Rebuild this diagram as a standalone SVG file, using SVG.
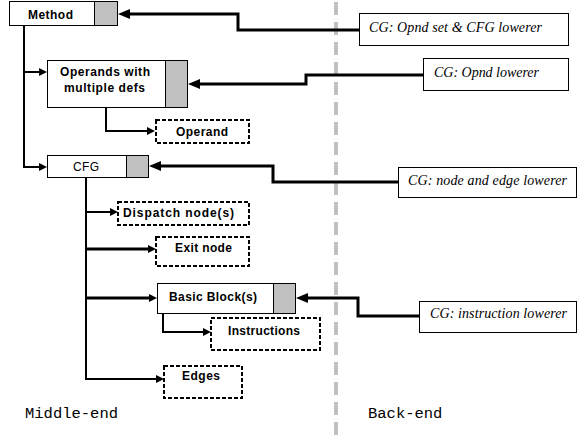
<svg xmlns="http://www.w3.org/2000/svg" width="586" height="436" viewBox="0 0 586 436">
<style>
.bg{fill:#ffffff}
.box{fill:#ffffff;stroke:#000;stroke-width:1}
.gray{fill:#c0c0c0;stroke:#000;stroke-width:1}
.dash{fill:#ffffff;stroke:#000;stroke-width:2;stroke-dasharray:4 2}
.cg{fill:#ffffff;stroke:#000;stroke-width:1}
.lbl{font-family:"Liberation Sans",Arial,sans-serif;font-size:12px;font-weight:bold;fill:#000}
.lbln{font-family:"Liberation Sans",Arial,sans-serif;font-size:12px;fill:#000}
.it{font-family:"Liberation Serif","Times New Roman",serif;font-size:14px;font-style:italic;fill:#000}
.mono{font-family:"Liberation Mono","Courier New",monospace;font-size:15.5px;fill:#000}
.sep{stroke:#c0c0c0;stroke-width:4;stroke-dasharray:13 7;stroke-dashoffset:18;fill:none}
.big{fill:none;stroke:#000;stroke-width:3}
.tree{fill:none;stroke:#000;stroke-width:2}
.thick{fill:none;stroke:#000;stroke-width:3}
</style>
<defs>
<marker id="ab" markerUnits="userSpaceOnUse" viewBox="0 0 12 10" refX="6" refY="5" markerWidth="12" markerHeight="10" orient="auto">
<path d="M0,0 L12,5 L0,10 z" fill="#000"/>
</marker>
<marker id="as" markerUnits="userSpaceOnUse" viewBox="0 0 8 8" refX="4" refY="4" markerWidth="8" markerHeight="8" orient="auto">
<path d="M0,0 L8,4 L0,8 z" fill="#000"/>
</marker>
</defs>
<rect class="bg" x="0" y="0" width="586" height="436"/>
<line class="sep" x1="336" y1="0" x2="336" y2="436"/>

<g id="connectors">
<path class="big" d="M359,30 H238 V14 H124" marker-end="url(#ab)"/>
<path class="big" d="M423,75 H306 V84 H194" marker-end="url(#ab)"/>
<path class="big" d="M398,182 H273 V166 H155" marker-end="url(#ab)"/>
<path class="big" d="M419,316 H358 V298 H302" marker-end="url(#ab)"/>
<path class="tree" d="M24,25 V167 H43" marker-end="url(#as)"/>
<path class="tree" d="M24,72 H43" marker-end="url(#as)"/>
<path class="tree" d="M106,107 V131 H151" marker-end="url(#as)"/>
<path class="tree" d="M86,177 V379 H160" marker-end="url(#as)"/>
<path class="tree" d="M86,212 H114" marker-end="url(#as)"/>
<path class="thick" d="M86,249 H152" marker-end="url(#as)"/>
<path class="thick" d="M86,298 H153" marker-end="url(#as)"/>
<path class="tree" d="M163,313 V332 H207" marker-end="url(#as)"/>
</g>

<g id="method">
<rect class="box" x="9.5" y="1.5" width="85" height="24"/>
<rect class="gray" x="94.5" y="1.5" width="23" height="24"/>
<text class="lbl" x="28" y="19" textLength="45">Method</text>
</g>
<g id="operands">
<rect class="box" x="47.5" y="60.5" width="118" height="47"/>
<rect class="gray" x="165.5" y="60.5" width="22" height="47"/>
<text class="lbl" x="60" y="76" textLength="90">Operands with</text>
<text class="lbl" x="64" y="92" textLength="81">multiple defs</text>
</g>
<g id="operand">
<rect class="dash" x="156" y="120" width="93" height="23"/>
<text class="lbl" x="176" y="136" textLength="52">Operand</text>
</g>
<g id="cfg">
<rect class="box" x="47.5" y="155.5" width="79" height="22"/>
<rect class="gray" x="126.5" y="155.5" width="22" height="22"/>
<text class="lbln" x="73" y="171" textLength="26">CFG</text>
</g>
<g id="dispatch">
<rect class="dash" x="118" y="202" width="131" height="23"/>
<text class="lbl" x="123" y="217" textLength="111">Dispatch node(s)</text>
</g>
<g id="exit">
<rect class="dash" x="156" y="237" width="93" height="29"/>
<text class="lbl" x="175" y="252" textLength="57">Exit node</text>
</g>
<g id="basicblock">
<rect class="box" x="157.5" y="283.5" width="116" height="30"/>
<rect class="gray" x="273.5" y="283.5" width="22" height="30"/>
<text class="lbl" x="169" y="301" textLength="88">Basic Block(s)</text>
</g>
<g id="instructions">
<rect class="dash" x="211" y="318" width="109" height="32"/>
<text class="lbl" x="228" y="335" textLength="72">Instructions</text>
</g>
<g id="edges">
<rect class="dash" x="164" y="366" width="78" height="32"/>
<text class="lbl" x="182" y="380" textLength="38">Edges</text>
</g>

<g id="cg-opndset">
<rect class="cg" x="359.5" y="13.5" width="209" height="32"/>
<text class="it" x="369" y="32" textLength="173">CG: Opnd set &amp; CFG lowerer</text>
</g>
<g id="cg-opnd">
<rect class="cg" x="423.5" y="58.5" width="145" height="32"/>
<text class="it" x="434" y="77" textLength="105">CG: Opnd lowerer</text>
</g>
<g id="cg-node">
<rect class="cg" x="398.5" y="167.5" width="178" height="30"/>
<text class="it" x="408" y="185" textLength="159">CG: node and edge lowerer</text>
</g>
<g id="cg-instr">
<rect class="cg" x="419.5" y="301.5" width="157" height="31"/>
<text class="it" x="430" y="318" textLength="137">CG: instruction lowerer</text>
</g>

<text class="mono" x="25" y="418">Middle-end</text>
<text class="mono" x="368" y="418">Back-end</text>
</svg>
